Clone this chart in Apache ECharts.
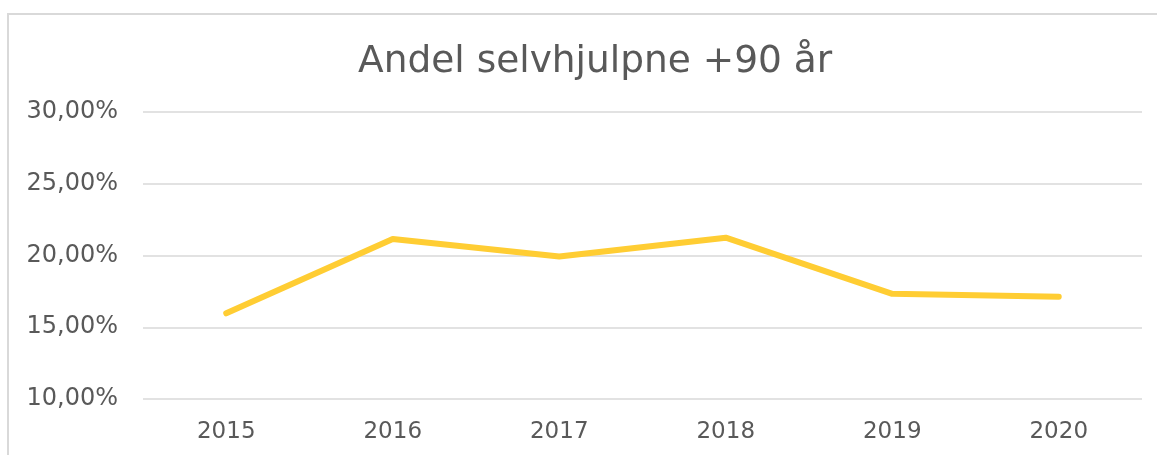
<!DOCTYPE html>
<html>
<head>
<meta charset="utf-8">
<script src="https://cdn.jsdelivr.net/npm/echarts@6/dist/echarts.min.js"></script>
<style>
html,body{margin:0;padding:0;background:#fff;}
#c{width:1157px;height:455px;}
</style>
</head>
<body>
<div id="c"></div>
<script>
const title = 'Andel selvhjulpne +90 år';
const categories = ['2015', '2016', '2017', '2018', '2019', '2020'];
const values = [0.1597, 0.2115, 0.1993, 0.2124, 0.1733, 0.1713];
const yMin = 0.10, yMax = 0.30, yStep = 0.05;

const chart = echarts.init(document.getElementById('c'), null, {renderer: 'canvas'});
const font = '"DejaVu Sans", Verdana, sans-serif';
chart.setOption({
  animation: false,
  backgroundColor: '#fff',
  graphic: [{
    type: 'rect', left: 7, top: 13, z: -1,
    shape: {width: 1200, height: 500},
    style: {fill: '#fff', stroke: '#d9d9d9', lineWidth: 2}
  }],
  title: {
    text: title, left: 353, top: 38,
    textStyle: {fontFamily: font, fontSize: 37.5, fontWeight: 'normal', color: '#595959'}
  },
  grid: {left: 143, right: 15, top: 112, bottom: 56},
  xAxis: {
    type: 'category', data: categories, boundaryGap: true,
    axisLine: {show: false}, axisTick: {show: false},
    axisLabel: {fontFamily: font, fontSize: 23, color: '#595959', margin: 22}
  },
  yAxis: {
    type: 'value', min: yMin, max: yMax, interval: yStep,
    axisLine: {show: false}, axisTick: {show: false},
    splitLine: {lineStyle: {color: '#d9d9d9', width: 1.5}},
    axisLabel: {
      fontFamily: font, fontSize: 24, color: '#595959', margin: 25,
      formatter: v => (v * 100).toFixed(2).replace('.', ',') + '%'
    }
  },
  series: [{
    type: 'line', data: values, symbol: 'none',
    lineStyle: {color: '#FFCD33', width: 6, cap: 'round', join: 'round'}
  }]
});
</script>
</body>
</html>
